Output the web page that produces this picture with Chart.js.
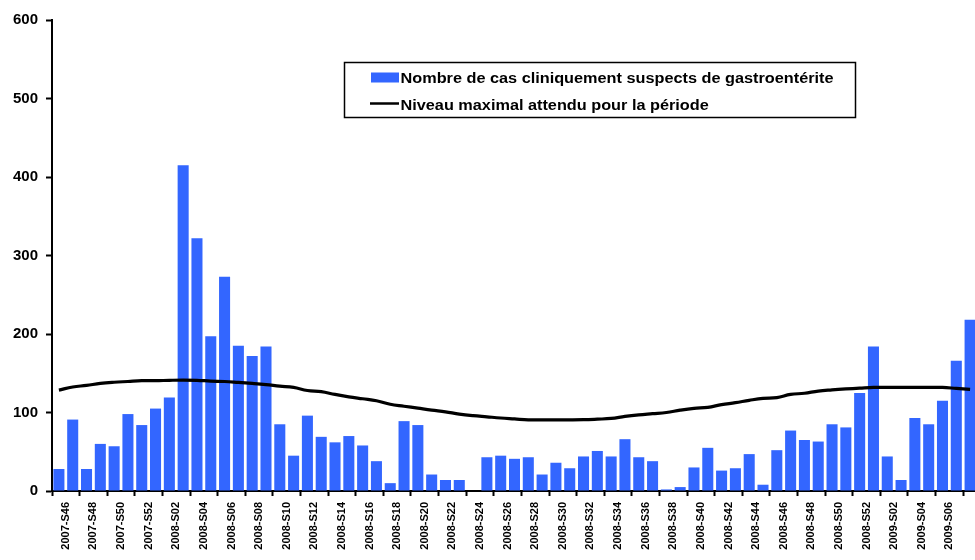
<!DOCTYPE html>
<html>
<head>
<meta charset="utf-8">
<script src="https://cdn.jsdelivr.net/npm/chart.js@4.4.0/dist/chart.umd.min.js"></script>
<style>
	html, body { margin: 0; padding: 0; background: #fff; overflow: hidden; }
	#wrap { width: 980px; height: 560px; }
</style>
</head>
<body>
<div id="wrap"><canvas id="chartGastro" width="980" height="560"></canvas></div>
<script>
// Semaines (libellés de l'axe X)
const semaines = [
	'2007-S45', '2007-S46', '2007-S47', '2007-S48', '2007-S49', '2007-S50', '2007-S51', '2007-S52',
	'2008-S01', '2008-S02', '2008-S03', '2008-S04', '2008-S05', '2008-S06', '2008-S07', '2008-S08',
	'2008-S09', '2008-S10', '2008-S11', '2008-S12', '2008-S13', '2008-S14', '2008-S15', '2008-S16',
	'2008-S17', '2008-S18', '2008-S19', '2008-S20', '2008-S21', '2008-S22', '2008-S23', '2008-S24',
	'2008-S25', '2008-S26', '2008-S27', '2008-S28', '2008-S29', '2008-S30', '2008-S31', '2008-S32',
	'2008-S33', '2008-S34', '2008-S35', '2008-S36', '2008-S37', '2008-S38', '2008-S39', '2008-S40',
	'2008-S41', '2008-S42', '2008-S43', '2008-S44', '2008-S45', '2008-S46', '2008-S47', '2008-S48',
	'2008-S49', '2008-S50', '2008-S51', '2008-S52', '2009-S01', '2009-S02', '2009-S03', '2009-S04',
	'2009-S05', '2009-S06', '2009-S07'
];

// Nombre de cas cliniquement suspects
const cas = [
	28, 91, 28, 60, 57, 98, 84, 105, 119, 415, 322, 197, 273, 185, 172, 184,
	85, 45, 96, 69, 62, 70, 58, 38, 10, 89, 84, 21, 14, 14, 0, 43,
	45, 41, 43, 21, 36, 29, 44, 51, 44, 66, 43, 38, 2, 5, 30, 55,
	26, 29, 47, 8, 52, 77, 65, 63, 85, 81, 125, 184, 44, 14, 93, 85,
	115, 166, 218
];

// Niveau maximal attendu
const seuil = [
	128.5, 132.5, 134.5, 137, 138.5, 139.5, 140.5, 140.5, 141, 141.3, 141, 140, 139.5, 138.3, 137, 135.5,
	133.6, 132, 128, 126.5, 123, 120, 117.5, 115, 110.5, 108, 105.5, 103, 100.8, 98, 96, 94.5,
	93, 91.8, 90.6, 90.6, 90.6, 90.6, 90.8, 91.5, 92.4, 95, 97, 98.5, 100, 103, 105.3, 106.5,
	110, 112.5, 115.5, 118, 119, 123, 124.5, 127.3, 128.8, 130, 131, 132, 132, 132, 132, 132,
	132, 130.7, 129.4
];

const yMin = 0;
const yMax = 600;
const yPas = 100;

const police = '"Liberation Sans", Arial, sans-serif';
Chart.defaults.font.family = police;
Chart.defaults.color = '#000';

// Légende encadrée dans la zone du graphique
const legendeCadre = {
	id: 'legendeCadre',
	afterDraw(chart) {
		const c = chart.ctx;
		const ds = chart.data.datasets;
		c.save();
		c.fillStyle = '#fff';
		c.fillRect(344.5, 62.5, 511, 55);
		c.strokeStyle = '#000';
		c.lineWidth = 1.5;
		c.strokeRect(344.5, 62.5, 511, 55);

		c.fillStyle = ds[0].backgroundColor;
		c.fillRect(371, 72.5, 28, 10);
		c.beginPath();
		c.moveTo(370, 103.5);
		c.lineTo(399, 103.5);
		c.lineWidth = 2.5;
		c.stroke();

		c.font = 'bold 14px ' + police;
		c.fillStyle = '#000';
		c.textBaseline = 'alphabetic';
		const k = 433 / c.measureText(ds[0].label).width;
		[[ds[0].label, 82.7], [ds[1].label, 110]].forEach(([txt, y]) => {
			c.save();
			c.translate(400.5, y);
			c.scale(k, 1);
			c.fillText(txt, 0, 0);
			c.restore();
		});
		c.restore();
	}
};

new Chart(document.getElementById('chartGastro'), {
	type: 'bar',
	data: {
		labels: semaines,
		datasets: [
			{
				type: 'bar',
				label: 'Nombre de cas cliniquement suspects de gastroentérite',
				data: cas,
				backgroundColor: '#3366ff',
				barPercentage: 0.8,
				categoryPercentage: 1,
				order: 2
			},
			{
				type: 'line',
				label: 'Niveau maximal attendu pour la période',
				data: seuil,
				borderColor: '#000',
				borderWidth: 3.2,
				pointRadius: 0,
				tension: 0.4,
				fill: false,
				order: 1
			}
		]
	},
	options: {
		responsive: false,
		animation: false,
		events: [],
		layout: { padding: { top: 20, right: 3, left: 0, bottom: 0 } },
		plugins: {
			legend: { display: false },
			tooltip: { enabled: false }
		},
		scales: {
			x: {
				grid: {
					drawOnChartArea: false,
					offset: true,
					tickLength: 5,
					tickWidth: 2,
					tickColor: ctx => (ctx.index !== undefined && ctx.index % 2 === 0) ? '#000' : 'rgba(0,0,0,0)'
				},
				border: { color: '#000', width: 2 },
				ticks: {
					autoSkip: false,
					maxRotation: 90,
					minRotation: 90,
					padding: 6,
					labelOffset: -6.9,
					font: { size: 11, weight: 'bold' },
					callback: (v, i) => i % 2 === 1 ? semaines[i] : ''
				},
				afterFit: s => { s.height = 69; s.paddingLeft = 0; s.paddingRight = 0; }
			},
			y: {
				min: yMin,
				max: yMax,
				grid: { drawOnChartArea: false, tickLength: 6, tickWidth: 2, tickColor: '#000' },
				border: { color: '#000', width: 2 },
				ticks: { stepSize: yPas, padding: 8, font: { size: 15, weight: 'bold' } },
				afterFit: s => { s.width = 52; }
			}
		}
	},
	plugins: [legendeCadre]
});
</script>
</body>
</html>
